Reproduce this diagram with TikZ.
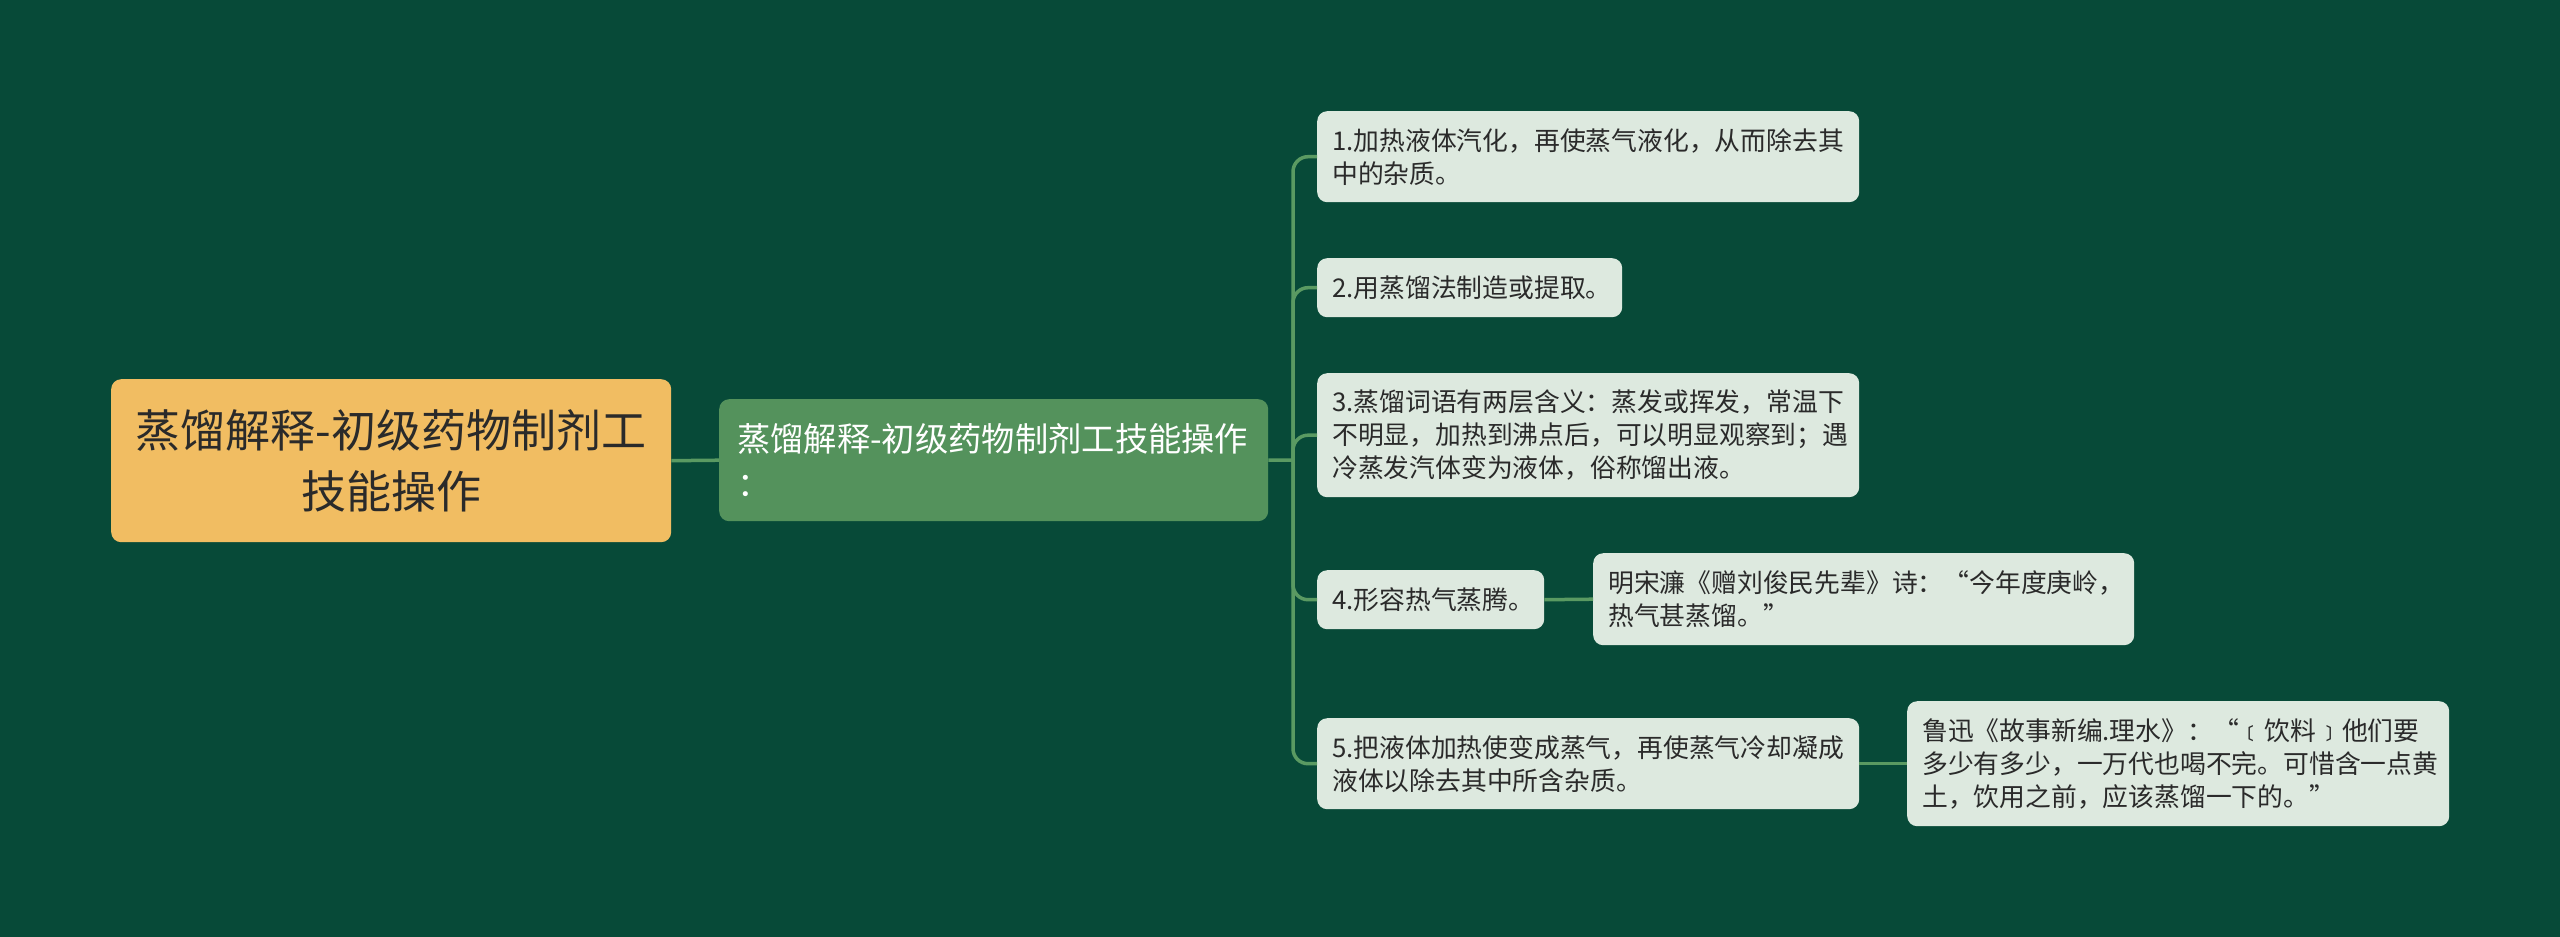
\documentclass[tikz,border=0pt]{standalone}
\usepackage{fontspec}
\setmainfont{Noto Sans CJK SC}
\definecolor{bgc}{HTML}{074A38}
\definecolor{rootc}{HTML}{F1BD62}
\definecolor{mainc}{HTML}{54925C}
\definecolor{childc}{HTML}{DDE9DF}
\definecolor{linec}{HTML}{5A9A62}
\definecolor{darktext}{HTML}{2A2A2A}
\tikzset{
  box/.style={anchor=north west, rounded corners=10pt, inner ysep=0pt, align=left},
  rootbox/.style={box, fill=rootc, text=darktext, inner xsep=15pt, align=center,
    font=\fontsize{45}{61}\selectfont},
  mainbox/.style={box, fill=mainc, text=white, inner xsep=18pt,
    font=\fontsize{33.3}{45}\selectfont},
  childbox/.style={box, fill=childc, text=darktext, inner xsep=15pt,
    font=\fontsize{25.8}{33}\selectfont},
  conn/.style={draw=linec, line width=3.5pt},
}
\begin{document}
\begin{tikzpicture}[x=1pt, y=-1pt]
\fill[bgc] (0,0) rectangle (2560,937);
\useasboundingbox (0,0) rectangle (2560,937);

\node[rootbox, text width=530pt, minimum width=560pt, minimum height=163pt] (root) at (111,379)
  {\mbox{蒸馏解释-初级药物制剂工}\\技能操作};
\node[mainbox, text width=513pt, minimum width=549pt, minimum height=122pt] (main) at (719,399)
  {\mbox{蒸馏解释-初级药物制剂工技能操作}\\：};

\node[childbox, text width=512pt, minimum width=542pt, minimum height=91pt] (c1) at (1317,111)
  {1.加热液体汽化，再使蒸气液化，从而除去其\\中的杂质。};
\node[childbox, text width=275pt, minimum width=305pt, minimum height=59pt] (c2) at (1317,258)
  {2.用蒸馏法制造或提取。};
\node[childbox, text width=512pt, minimum width=542pt, minimum height=124pt] (c3) at (1317,373)
  {3.蒸馏词语有两层含义：蒸发或挥发，常温下\\不明显，加热到沸点后，可以明显观察到；遇\\冷蒸发汽体变为液体，俗称馏出液。};
\node[childbox, text width=197pt, minimum width=227pt, minimum height=59pt] (c4) at (1317,570)
  {4.形容热气蒸腾。};
\node[childbox, text width=511pt, minimum width=541pt, minimum height=92pt] (q4) at (1593,553)
  {明宋濂《赠刘俊民先辈》诗：“今年度庚岭，\\热气甚蒸馏。”};
\node[childbox, text width=512pt, minimum width=542pt, minimum height=91pt] (c5) at (1317,718)
  {5.把液体加热使变成蒸气，再使蒸气冷却凝成\\液体以除去其中所含杂质。};
\node[childbox, text width=512pt, minimum width=542pt, minimum height=125pt] (q5) at (1907,701)
  {鲁迅《故事新编.理水》：“﹝饮料﹞他们要\\多少有多少，一万代也喝不完。可惜含一点黄\\土，饮用之前，应该蒸馏一下的。”};

\coordinate (tr) at (1293,460);
\draw[conn] (root.east) -- (main.west);
\draw[conn] (main.east) -- (tr);
\foreach \c in {c1,c2,c3,c4,c5}
  \draw[conn, rounded corners=15pt] (tr) |- (\c.west);
\draw[conn] (c4.east) -- (q4.west);
\draw[conn] (c5.east) -- (q5.west);
\end{tikzpicture}
\end{document}
